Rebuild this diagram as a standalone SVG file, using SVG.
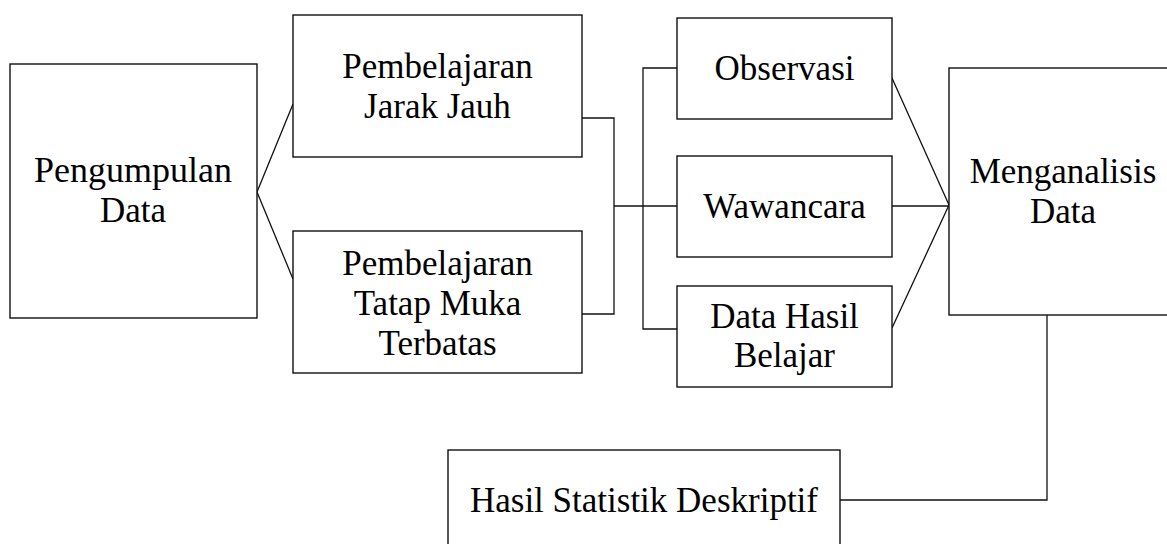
<svg xmlns="http://www.w3.org/2000/svg" width="1167" height="544" viewBox="0 0 1167 544">
<style>
.box{fill:#fff;stroke:#111;stroke-width:1.4}
.lbl{font-family:"Liberation Serif","Times New Roman",serif;font-size:35px;fill:#000;text-anchor:middle}
.con{fill:none;stroke:#111;stroke-width:1.3}
</style>
<rect width="1167" height="544" fill="#fff"/>
<g id="connectors">
<path class="con" d="M257,192 L293,104 M257,192 L293,279"/>
<path class="con" d="M582,118 H614 V314 H582"/>
<path class="con" d="M614,206 H677"/>
<path class="con" d="M677,68 H643 V329 H677"/>
<path class="con" d="M892,78 L949,205 M892,206 H949 M892,328 L949,205"/>
<path class="con" d="M1047,315 V500 H840"/>
</g>
<g id="pengumpulan">
<rect class="box" x="10" y="64" width="247" height="254"/>
<text class="lbl" x="133" y="182" textLength="198" lengthAdjust="spacingAndGlyphs">Pengumpulan</text>
<text class="lbl" x="133" y="222">Data</text>
</g>
<g id="pjj">
<rect class="box" x="293" y="15" width="289" height="142"/>
<text class="lbl" x="437.5" y="78">Pembelajaran</text>
<text class="lbl" x="437.5" y="118">Jarak Jauh</text>
</g>
<g id="ptm">
<rect class="box" x="293" y="231" width="289" height="142"/>
<text class="lbl" x="437.5" y="275">Pembelajaran</text>
<text class="lbl" x="437.5" y="315">Tatap Muka</text>
<text class="lbl" x="437.5" y="355">Terbatas</text>
</g>
<g id="observasi">
<rect class="box" x="677" y="18" width="215" height="101"/>
<text class="lbl" x="784.5" y="80">Observasi</text>
</g>
<g id="wawancara">
<rect class="box" x="677" y="156" width="215" height="101"/>
<text class="lbl" x="784.5" y="218">Wawancara</text>
</g>
<g id="datahasil">
<rect class="box" x="677" y="286" width="215" height="101"/>
<text class="lbl" x="784.5" y="328">Data Hasil</text>
<text class="lbl" x="784.5" y="367">Belajar</text>
</g>
<g id="menganalisis">
<rect class="box" x="949" y="68" width="228" height="247"/>
<text class="lbl" x="1063" y="183">Menganalisis</text>
<text class="lbl" x="1063" y="223">Data</text>
</g>
<g id="hasilstatistik">
<rect class="box" x="448" y="450" width="392" height="110"/>
<text class="lbl" x="644" y="512">Hasil Statistik Deskriptif</text>
</g>
</svg>
